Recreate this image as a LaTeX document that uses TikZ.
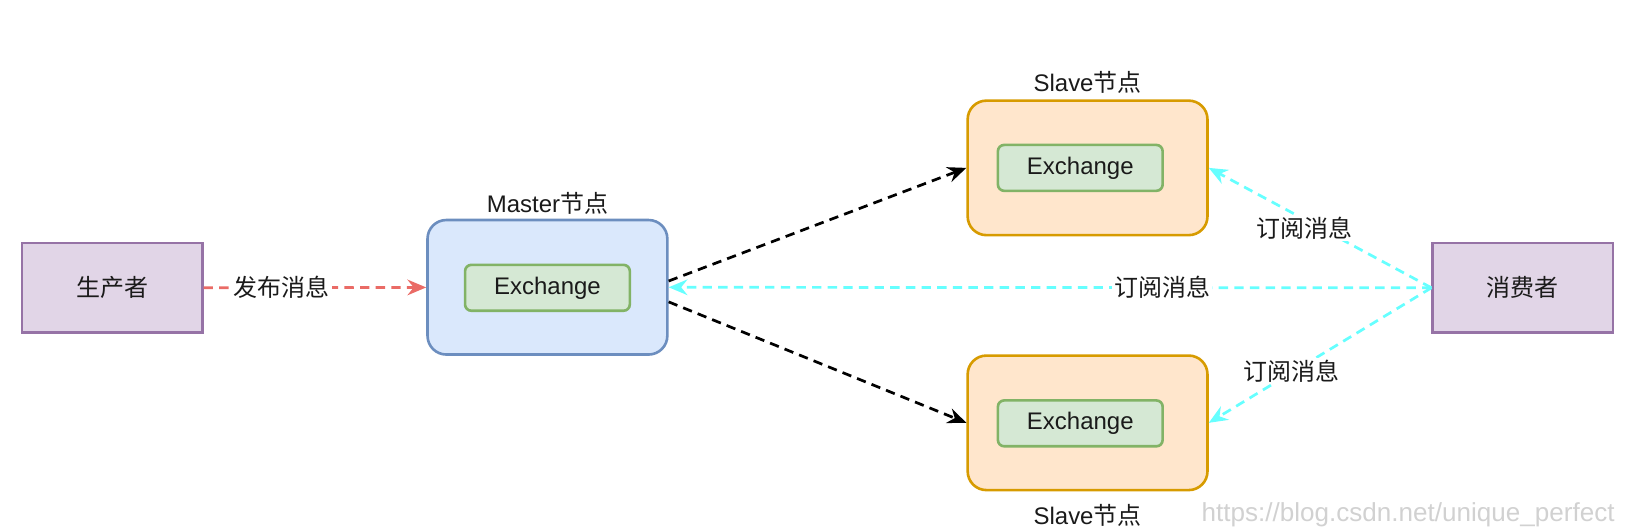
\documentclass[tikz,border=0pt]{standalone}
\usepackage{fontspec}
\setmainfont{Liberation Sans}
\newfontfamily\cjk{Noto Sans CJK SC}
\usetikzlibrary{arrows.meta}
\definecolor{rolefill}{HTML}{E1D5E7}
\definecolor{roledraw}{HTML}{9673A6}
\definecolor{masterfill}{HTML}{DAE8FC}
\definecolor{masterdraw}{HTML}{6C8EBF}
\definecolor{slavefill}{HTML}{FFE6CC}
\definecolor{slavedraw}{HTML}{D79B00}
\definecolor{exfill}{HTML}{D5E8D4}
\definecolor{exdraw}{HTML}{82B366}
\definecolor{pubred}{HTML}{EA6B66}
\definecolor{subcyan}{HTML}{66FFFF}
\definecolor{txt}{HTML}{1A1A1A}
\tikzset{
  every node/.style={font=\fontsize{23}{27}\selectfont, text=txt},
  rolebox/.style={draw=roledraw, fill=rolefill, line width=2.5pt, minimum width=173pt, minimum height=86pt, inner sep=0pt},
  brokerbox/.style={line width=2.5pt, rounded corners=18pt, minimum width=230pt, minimum height=129pt, inner sep=0pt},
  exbox/.style={draw=exdraw, fill=exfill, line width=2.5pt, rounded corners=6pt, minimum width=158pt, minimum height=44pt, inner sep=0pt},
  link/.style={line width=2.6pt, dash pattern=on 9pt off 6pt, -{Stealth[length=18pt, width=15pt, inset=6pt]}},
  tag/.style={fill=white, inner sep=2pt}
}
\begin{document}
\begin{tikzpicture}[x=1pt,y=1pt]
        \useasboundingbox (0,0) rectangle (1568,-509);
        \node [rolebox] (prod) at (107.5,-276) {\cjk 生产者};
        \node [rolebox] (cons) at (1460.5,-276) {\cjk 消费者};
        \node [brokerbox, draw=masterdraw, fill=masterfill] (master) at (525,-275.5) {};
        \node [brokerbox, draw=slavedraw, fill=slavefill] (slave1) at (1043,-161) {};
        \node [brokerbox, draw=slavedraw, fill=slavefill] (slave2) at (1043,-405.5) {};
        \node [exbox] (ex0) at (525,-276) {Exchange};
        \node [exbox] (ex1) at (1036,-161) {Exchange};
        \node [exbox] (ex2) at (1036,-406) {Exchange};
        \node (mlabel) at (525,-195) {Master{\cjk 节点}};
        \node (s1label) at (1043,-79) {Slave{\cjk 节点}};
        \node (s2label) at (1043,-494) {Slave{\cjk 节点}};
        \draw [link, pubred] (prod) -- node [tag, pos=0.35] {\cjk 发布消息} (master);
        \draw [link, black] ([yshift=6pt]master.east) -- (slave1.west);
        \draw [link, black] ([yshift=-14pt]master.east) -- (slave2.west);
        \draw [link, subcyan] (cons.west) -- node [tag, pos=0.353] {\cjk 订阅消息} (master.east);
        \draw [link, subcyan] (cons.west) -- node [tag, pos=0.57, yshift=-8pt] {\cjk 订阅消息} (slave1.east);
        \draw [link, subcyan] (cons.west) -- node [tag, pos=0.63, yshift=2pt] {\cjk 订阅消息} (slave2.east);
        \node [text=black!18, font=\fontsize{25}{30}\selectfont, anchor=east] (mark) at (1552,-494) {https://blog.csdn.net/unique\_perfect};
    \end{tikzpicture}
\end{document}
